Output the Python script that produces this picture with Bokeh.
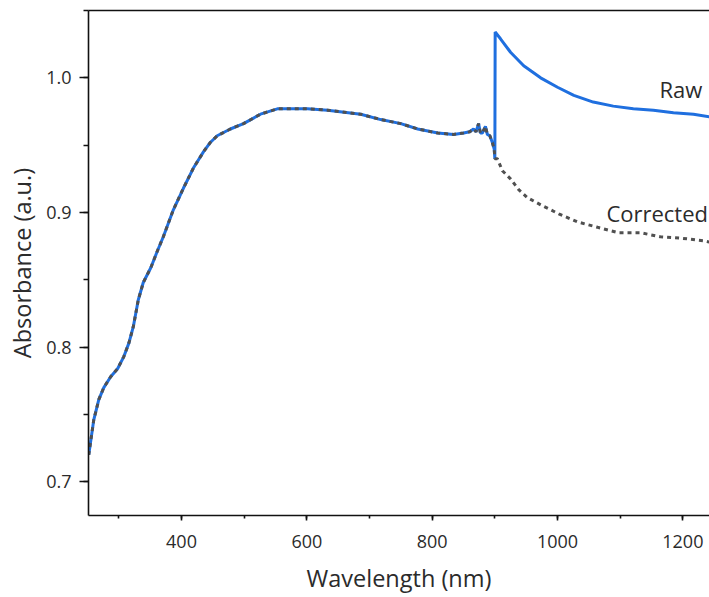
from bokeh.plotting import figure
from bokeh.models import (SingleIntervalTicker, NumeralTickFormatter, LinearAxis,
                          Range1d, Label, FixedTicker)
from bokeh.embed import file_html
from bokeh.resources import INLINE

# ---- data ----
# shared part of both spectra (nm, absorbance)
wl_common = [252, 260, 268, 276, 287, 298, 308, 316, 323, 331, 339, 351, 362, 371,
             387, 403, 419, 435, 446, 457, 478, 499, 526, 553, 574, 601, 633, 686,
             718, 750, 777, 809, 834, 850, 860, 866, 870, 874, 877, 880, 885, 888,
             892, 896, 899]
abs_common = [0.720, 0.746, 0.761, 0.770, 0.778, 0.784, 0.793, 0.803, 0.815, 0.835,
              0.848, 0.859, 0.872, 0.882, 0.902, 0.918, 0.933, 0.945, 0.952, 0.957,
              0.962, 0.966, 0.973, 0.977, 0.977, 0.977, 0.976, 0.973, 0.969, 0.966,
              0.962, 0.959, 0.958, 0.959, 0.960, 0.962, 0.960, 0.966, 0.959, 0.959,
              0.964, 0.958, 0.957, 0.952, 0.947]

# raw spectrum after the detector change
raw_tail_wl = [900, 900.5, 909, 925, 946, 973, 1000, 1026, 1057, 1089, 1121, 1153,
               1185, 1217, 1243]
raw_tail_abs = [0.940, 1.034, 1.029, 1.019, 1.009, 1.000, 0.993, 0.987, 0.982,
                0.979, 0.977, 0.976, 0.974, 0.973, 0.971]

# corrected spectrum after the detector change
corr_tail_wl = [900, 904, 912, 925, 938, 952, 976, 1002, 1032, 1064, 1097, 1132,
                1164, 1196, 1233, 1243]
corr_tail_abs = [0.940, 0.940, 0.931, 0.925, 0.917, 0.911, 0.905, 0.899, 0.893,
                 0.889, 0.885, 0.885, 0.882, 0.881, 0.879, 0.878]

raw_wl = wl_common + raw_tail_wl
raw_abs = abs_common + raw_tail_abs
corr_wl = wl_common + corr_tail_wl
corr_abs = abs_common + corr_tail_abs

x_ticks_interval = 200
y_ticks_interval = 0.1

FONT = "Open Sans"
TXT = "#2b2b2b"

p = figure(width=709, height=597, output_backend="svg", toolbar_location=None,
           x_range=Range1d(251.6, 1242.5), y_range=Range1d(0.675, 1.05),
           min_border_left=88, min_border_right=0, min_border_top=10,
           min_border_bottom=82)
p.outline_line_color = None
p.grid.visible = False
p.background_fill_color = "white"
p.border_fill_color = "white"

p.line(raw_wl, raw_abs, line_color="#1f6fdf", line_width=3)
p.line(corr_wl, corr_abs, line_color="#505050", line_width=3, line_dash="4 4")

# axes
for ax in (p.xaxis[0], p.yaxis[0]):
    ax.axis_line_color = "#111111"
    ax.axis_line_width = 1.6
    ax.major_tick_line_color = "#111111"
    ax.major_tick_line_width = 1.6
    ax.minor_tick_line_color = "#111111"
    ax.minor_tick_line_width = 1.6
    ax.major_tick_in = 0
    ax.minor_tick_in = 0
    ax.major_label_text_font = FONT
    ax.major_label_text_font_size = "18px"
    ax.major_label_text_color = TXT
    ax.axis_label_text_font = FONT
    ax.axis_label_text_font_size = "23.5px"
    ax.axis_label_text_font_style = "normal"
    ax.axis_label_text_color = TXT

p.xaxis.ticker = SingleIntervalTicker(interval=x_ticks_interval, num_minor_ticks=2)
p.xaxis.axis_label = "Wavelength (nm)"
p.xaxis.major_tick_out = 5
p.xaxis.minor_tick_out = 3
p.xaxis.major_label_standoff = 14
p.xaxis.axis_label_standoff = 11

p.yaxis.ticker = SingleIntervalTicker(interval=y_ticks_interval, num_minor_ticks=2)
p.yaxis.formatter = NumeralTickFormatter(format="0.0")
p.yaxis.axis_label = "Absorbance (a.u.)"
p.yaxis.major_tick_out = 9
p.yaxis.minor_tick_out = 5
p.yaxis.major_label_standoff = 8
p.yaxis.axis_label_standoff = 5

# top border line (an axis without ticks or labels)
top = LinearAxis(axis_line_color="#111111", axis_line_width=1.6,
                 ticker=FixedTicker(ticks=[]),
                 major_tick_line_color=None, minor_tick_line_color=None,
                 major_tick_out=0, minor_tick_out=0, major_tick_in=0,
                 minor_tick_in=0, major_label_standoff=0)
p.add_layout(top, "above")

p.add_layout(Label(x=1162.7, y=0.9920, text="Raw", text_align="left",
                   text_baseline="alphabetic",
                   text_font=FONT, text_font_size="22px", text_color=TXT))
p.add_layout(Label(x=1078.0, y=0.9000, text="Corrected", text_align="left",
                   text_baseline="alphabetic",
                   text_font=FONT, text_font_size="22px", text_color=TXT))

open("out.html", "w").write(file_html(p, INLINE))
